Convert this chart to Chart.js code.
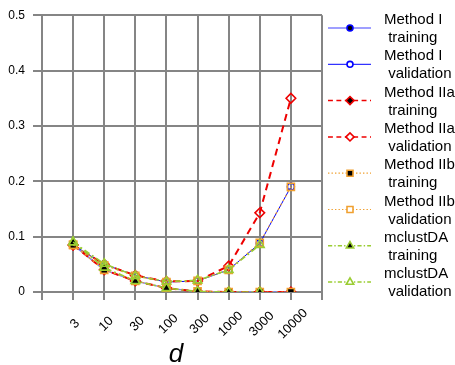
<!DOCTYPE html>
<html lang="en">
<head>
  <meta charset="UTF-8">
  <title>Error rate vs d</title>
  <script src="https://cdn.jsdelivr.net/npm/chart.js"></script>
  <style>
    body {
      margin: 0;
      background: #fff;
    }
    canvas {
      display: block;
    }
  </style>
</head>
<body>
  <canvas id="chart" width="455" height="365"></canvas>

  <script>
    // d values (x axis)
    const dLabels = ['3', '10', '30', '100', '300', '1000', '3000', '10000'];

    // error rates
    const methodITrain = [0.085, 0.040, 0.020, 0.007, 0.001, 0, 0, 0];
    const methodIValid = [0.085, 0.050, 0.030, 0.018, 0.020, 0.040, 0.088, 0.190];
    const methodIIaTrain = [0.085, 0.040, 0.020, 0.007, 0.001, 0, 0, 0];
    const methodIIaValid = [0.085, 0.050, 0.030, 0.019, 0.020, 0.047, 0.143, 0.350];
    const methodIIbTrain = [0.085, 0.040, 0.020, 0.007, 0.001, 0, 0, 0];
    const methodIIbValid = [0.085, 0.048, 0.029, 0.018, 0.020, 0.040, 0.089, 0.190];
    const mclustTrain = [0.090, 0.044, 0.020, 0.007, 0.001, 0, 0, null];
    const mclustValid = [0.090, 0.051, 0.029, 0.019, 0.021, 0.040, 0.085, null];

    const legendNames = [
      ['Method I', ' training'],
      ['Method I', ' validation'],
      ['Method IIa', ' training'],
      ['Method IIa', ' validation'],
      ['Method IIb', ' training'],
      ['Method IIb', ' validation'],
      ['mclustDA', ' training'],
      ['mclustDA', ' validation']
    ];

    const BLUE = '#0000ff';
    const LIGHTBLUE = '#7f7fff';
    const RED = '#ee0000';
    const ORANGE = '#f0a030';
    const GREEN = '#9acd32';
    const GRID = '#858585';

    function pts(values) {
      return values.map((v, i) => ({ x: i + 1, y: v }));
    }

    function series(idx, values, color, dash, width, style, radius, fill) {
      return {
        label: legendNames[idx].join(''),
        data: pts(values),
        borderColor: color,
        borderWidth: width,
        borderDash: dash,
        pointStyle: style,
        pointRadius: radius,
        pointBackgroundColor: fill,
        pointBorderColor: color === LIGHTBLUE ? BLUE : color,
        pointBorderWidth: 1.6,
        tension: 0,
        fill: false,
        order: 8 - idx
      };
    }

    const datasets = [
      series(0, methodITrain, LIGHTBLUE, [], 1.5, 'circle', 3.5, '#000'),
      series(1, methodIValid, BLUE, [], 1, 'circle', 3.5, 'rgba(0,0,0,0)'),
      series(2, methodIIaTrain, RED, [7, 5], 2, 'rectRot', 4.8, '#000'),
      series(3, methodIIaValid, RED, [7, 5], 2, 'rectRot', 4.8, 'rgba(0,0,0,0)'),
      series(4, methodIIbTrain, ORANGE, [2, 3], 1.2, 'rect', 5, '#000'),
      series(5, methodIIbValid, ORANGE, [2, 3], 1.2, 'rect', 5, 'rgba(0,0,0,0)'),
      series(6, mclustTrain, GREEN, [6, 3, 2, 3], 1.6, 'triangle', 5, '#000'),
      series(7, mclustValid, GREEN, [6, 3, 2, 3], 1.6, 'triangle', 5, 'rgba(0,0,0,0)')
    ];

    // x tick labels, axis title and the two-line legend
    const extrasPlugin = {
      id: 'extras',
      afterDraw(chart) {
        const ctx = chart.ctx;
        const xs = chart.scales.x;
        ctx.save();
        ctx.fillStyle = '#000';
        ctx.font = '13px "Liberation Sans", Arial, sans-serif';
        ctx.textAlign = 'center';
        ctx.textBaseline = 'middle';
        dLabels.forEach((lab, i) => {
          const px = xs.getPixelForValue(i + 1) + 2;
          ctx.save();
          ctx.translate(px, 324);
          ctx.rotate(-Math.PI / 4);
          ctx.fillText(lab, 0, 0);
          ctx.restore();
        });

        ctx.font = 'italic 26px "Liberation Sans", Arial, sans-serif';
        ctx.fillText('d', 176, 355);

        // legend
        const x0 = 328, x1 = 371, mx = 350;
        chart.data.datasets.forEach((ds, i) => {
          const y = 28 + i * 36.3;
          ctx.save();
          ctx.strokeStyle = ds.borderColor;
          ctx.lineWidth = Math.min(ds.borderWidth, 1.5);
          ctx.setLineDash(ds.borderDash.map(v => v * 0.7));
          ctx.beginPath();
          ctx.moveTo(x0, y);
          ctx.lineTo(x1, y);
          ctx.stroke();
          ctx.setLineDash([]);
          ctx.fillStyle = ds.pointBackgroundColor === 'rgba(0,0,0,0)' ? '#fff' : ds.pointBackgroundColor;
          ctx.strokeStyle = ds.pointBorderColor;
          ctx.lineWidth = ds.pointBorderWidth;
          Chart.helpers.drawPoint(ctx, {
            pointStyle: ds.pointStyle,
            radius: ds.pointRadius * 0.85,
            rotation: 0,
            borderWidth: ds.pointBorderWidth
          }, mx, y);
          ctx.restore();

          ctx.fillStyle = '#000';
          ctx.font = '15px "Liberation Sans", Arial, sans-serif';
          ctx.textAlign = 'left';
          ctx.textBaseline = 'middle';
          ctx.fillText(legendNames[i][0], 384, y - 8);
          ctx.fillText(legendNames[i][1], 384, y + 10);
        });
        ctx.restore();
      }
    };

    new Chart(document.getElementById('chart'), {
      type: 'line',
      data: { datasets: datasets },
      options: {
        responsive: false,
        animation: false,
        layout: { padding: { top: 12, right: 133, left: 0, bottom: 0 } },
        plugins: {
          legend: { display: false },
          tooltip: { enabled: false }
        },
        scales: {
          x: {
            type: 'linear',
            min: 0,
            max: 9,
            ticks: { stepSize: 1, display: false },
            grid: { color: GRID, lineWidth: 2, tickLength: 8 },
            border: { color: GRID, width: 2 },
            afterFit(scale) { scale.height = 73; }
          },
          y: {
            min: 0,
            max: 0.5,
            ticks: {
              stepSize: 0.1,
              padding: 8,
              color: '#000',
              font: { size: 12, family: '"Liberation Sans", Arial, sans-serif' }
            },
            grid: { color: GRID, lineWidth: 2, tickLength: 9 },
            border: { color: GRID, width: 2 },
            afterFit(scale) { scale.width = 42; }
          }
        }
      },
      plugins: [extrasPlugin]
    });
  </script>
</body>
</html>
